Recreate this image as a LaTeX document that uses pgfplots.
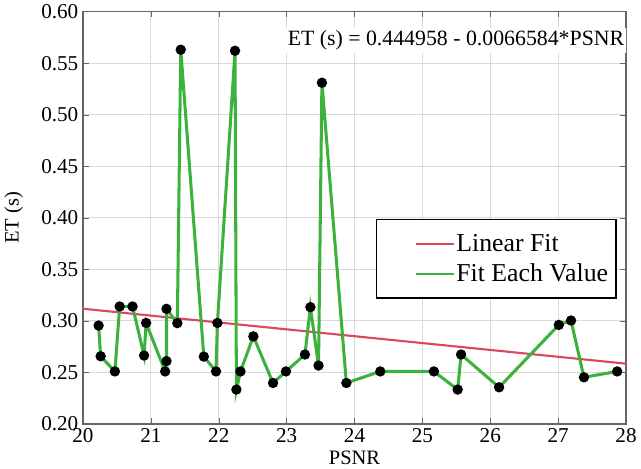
\documentclass[border=0pt]{standalone}
\usepackage{fontspec}
\setmainfont{Liberation Serif}
\usepackage{pgfplots}
\pgfplotsset{compat=1.18}

\definecolor{fitred}{RGB}{222,70,95}
\definecolor{fitgreen}{RGB}{60,178,60}

\begin{document}
\begin{tikzpicture}
\begin{axis}[
  scale only axis, width=410.8pt, height=312pt,
  xmin=20, xmax=28, ymin=0.2, ymax=0.6,
  xtick={20,21,...,28}, ytick={0.2,0.25,...,0.6},
  /pgf/number format/assume math mode=true,
  yticklabel style={/pgf/number format/.cd,fixed,fixed zerofill,precision=2},
  ticklabel style={font=\fontsize{16}{16}\selectfont},
  xlabel={PSNR}, ylabel={ET (s)},
  label style={font=\fontsize{15.5}{16}\selectfont},
  xlabel style={yshift=1pt},
  ylabel style={yshift=7pt},
  grid=major, grid style={gray!30, line width=0.8pt},
  axis line style={gray!80!black, line width=0.8pt},
  tick style={gray!80!black},
  tick align=inside,
  legend style={at={(rel axis cs:0.539,0.4976)}, anchor=north west,
    draw=black, line width=1pt, font=\fontsize{19.5}{21}\selectfont,
    inner xsep=5pt, inner ysep=9pt, row sep=4pt,
    nodes={inner xsep=1pt}},
  legend cell align=left,
  legend image code/.code={
    \path (0cm,0cm);
    \draw[#1, mark=none, line width=1.5pt] (0.85cm,0cm) -- (1.85cm,0cm);},
]
\addplot[color=fitred, line width=1.6pt] coordinates {(20,0.311790) (28,0.258523)};
\addlegendentry{Linear Fit}
\addplot[color=fitgreen, line width=2.3pt, mark=*, mark size=2.7pt,
  mark options={fill=black, draw=black}] coordinates {
(20.23,0.2955) (20.26,0.2657) (20.47,0.251) (20.54,0.314) (20.73,0.314)
(20.90,0.2664) (20.93,0.298) (21.21,0.251) (21.23,0.261) (21.23,0.3117)
(21.39,0.2978) (21.44,0.563) (21.78,0.2654) (21.96,0.251) (21.98,0.298)
(22.24,0.562) (22.26,0.2334) (22.32,0.251) (22.51,0.285) (22.80,0.2398)
(22.99,0.251) (23.27,0.2674) (23.35,0.3133) (23.47,0.2567) (23.52,0.531)
(23.88,0.2398) (24.38,0.251) (25.17,0.251) (25.52,0.2334) (25.57,0.2674)
(26.13,0.2356) (27.01,0.2961) (27.19,0.3004) (27.38,0.2453) (27.87,0.251)};
\addlegendentry{Fit Each Value}
\node[anchor=east, fill=white, inner sep=2pt, font=\fontsize{16.5}{17}\selectfont]
  at (rel axis cs:1.002,0.93) {ET (s) = 0.444958 - 0.0066584*PSNR};
\end{axis}
\end{tikzpicture}
\end{document}
